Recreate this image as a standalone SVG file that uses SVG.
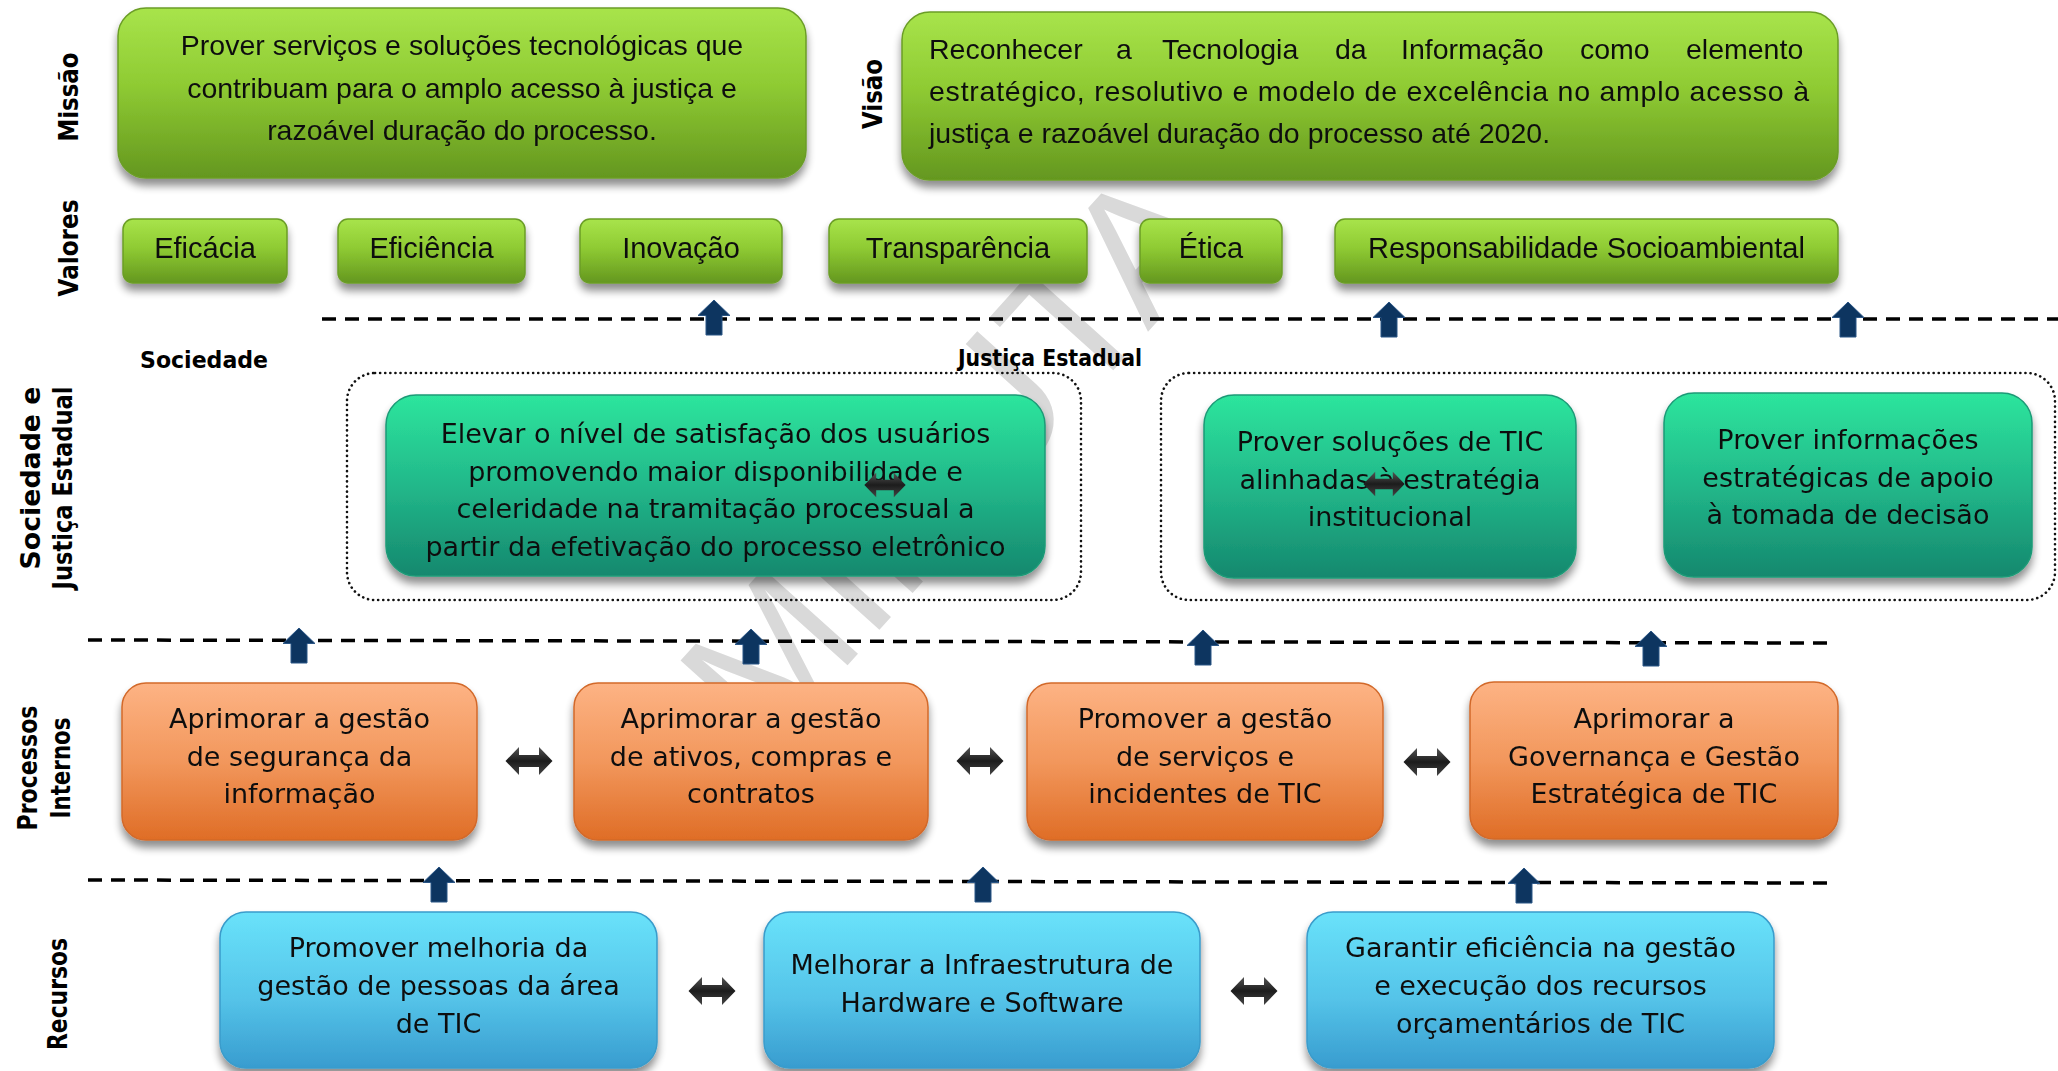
<svg xmlns="http://www.w3.org/2000/svg" width="2058" height="1071" viewBox="0 0 2058 1071">
<defs>
<style>
.t1{font-family:"Liberation Sans",Arial,sans-serif;font-size:28.5px;fill:#111}
.t1m{font-family:"Liberation Sans",Arial,sans-serif;font-size:28.5px;fill:#111;text-anchor:middle}
.tc{font-family:"DejaVu Sans",Verdana,sans-serif;font-size:27px;fill:#111;text-anchor:middle}
.tv{font-family:"Liberation Sans",Arial,sans-serif;font-size:29px;fill:#111;text-anchor:middle}
.lb{font-family:"DejaVu Sans",Verdana,sans-serif;font-weight:bold;font-size:26px;fill:#000;text-anchor:middle}
.hb{font-family:"DejaVu Sans",Verdana,sans-serif;font-weight:bold;font-size:23px;fill:#000}
.dash{stroke:#000;stroke-width:3.5;stroke-dasharray:14 9;fill:none}
.dot{fill:none;stroke:#111;stroke-width:2.6;stroke-dasharray:0.1 5;stroke-linecap:round}
.green{fill:url(#gG);stroke:#6b9d26;stroke-width:1.5}
.teal{fill:url(#gT);stroke:#1c9a77;stroke-width:1.5}
.orange{fill:url(#gO);stroke:#d2692a;stroke-width:1.5}
.blue{fill:url(#gB);stroke:#3a9ccb;stroke-width:1.5}
.up{fill:#0d3560;stroke:#2b5686;stroke-width:1}
.dbl{fill:url(#gD)}
</style>
<linearGradient id="gG" x1="0" y1="0" x2="0" y2="1"><stop offset="0" stop-color="#a8e44b"/><stop offset="0.45" stop-color="#8fcb33"/><stop offset="1" stop-color="#64971f"/></linearGradient>
<linearGradient id="gT" x1="0" y1="0" x2="0" y2="1"><stop offset="0" stop-color="#2de59d"/><stop offset="0.5" stop-color="#22b88a"/><stop offset="1" stop-color="#15886e"/></linearGradient>
<linearGradient id="gO" x1="0" y1="0" x2="0" y2="1"><stop offset="0" stop-color="#fdb384"/><stop offset="0.5" stop-color="#f2975c"/><stop offset="1" stop-color="#df6d26"/></linearGradient>
<linearGradient id="gB" x1="0" y1="0" x2="0" y2="1"><stop offset="0" stop-color="#69e2fa"/><stop offset="0.55" stop-color="#55c4e9"/><stop offset="1" stop-color="#389ccf"/></linearGradient>
<linearGradient id="gD" x1="0" y1="0" x2="0" y2="1"><stop offset="0" stop-color="#555"/><stop offset="0.5" stop-color="#1c1c1c"/><stop offset="1" stop-color="#444"/></linearGradient>
<filter id="sh" x="-10%" y="-15%" width="120%" height="145%">
<feGaussianBlur in="SourceAlpha" stdDeviation="4"/>
<feOffset dy="7" result="o"/>
<feComponentTransfer><feFuncA type="linear" slope="0.45"/></feComponentTransfer>
<feMerge><feMergeNode/><feMergeNode in="SourceGraphic"/></feMerge>
</filter>
<path id="uparrow" class="up" d="M0,0 L16,15.5 L8,15.5 L8,35 L-8,35 L-8,15.5 L-16,15.5 Z"/>
<path id="dblarrow" class="dbl" d="M-23.5,0 L-10,-14 L-10,-6 L10,-6 L10,-14 L23.5,0 L10,14 L10,6 L-10,6 L-10,14 Z"/>
</defs>
<rect width="2058" height="1071" fill="#fff"/>

<text transform="translate(765,757) rotate(-48)" font-family="Liberation Sans, Arial, sans-serif" font-size="185" fill="#d9d9d9">MINUTA</text>

<g id="labels">
<text class="lb" transform="translate(78,97) rotate(-90)" textLength="89" lengthAdjust="spacingAndGlyphs">Missão</text>
<text class="lb" transform="translate(78,248) rotate(-90)" textLength="97" lengthAdjust="spacingAndGlyphs">Valores</text>
<text class="lb" transform="translate(882,94) rotate(-90)" textLength="70" lengthAdjust="spacingAndGlyphs">Visão</text>
<text class="lb" transform="translate(40,478) rotate(-90)" textLength="183" lengthAdjust="spacingAndGlyphs">Sociedade e</text>
<text class="lb" transform="translate(72,488) rotate(-90)" textLength="203" lengthAdjust="spacingAndGlyphs">Justiça Estadual</text>
<text class="lb" transform="translate(37,768) rotate(-90)" textLength="125" lengthAdjust="spacingAndGlyphs">Processos</text>
<text class="lb" transform="translate(70,768) rotate(-90)" textLength="101" lengthAdjust="spacingAndGlyphs">Internos</text>
<text class="lb" transform="translate(67,994) rotate(-90)" textLength="112" lengthAdjust="spacingAndGlyphs">Recursos</text>
<text class="hb" x="140" y="368" textLength="128" lengthAdjust="spacingAndGlyphs">Sociedade</text>
<text class="hb" x="958" y="366" textLength="184" lengthAdjust="spacingAndGlyphs">Justiça Estadual</text>
</g>

<g id="containers">
<rect id="grupo-sociedade" class="dot" x="347" y="373" width="734" height="227" rx="28"/>
<rect id="grupo-justica" class="dot" x="1161" y="373" width="894" height="227" rx="28"/>
</g>

<g id="missao" filter="url(#sh)">
<rect class="green" x="118" y="8" width="688" height="170" rx="28"/>
<text class="t1m" x="462" y="55">Prover serviços e soluções tecnológicas que</text>
<text class="t1m" x="462" y="98">contribuam para o amplo acesso à justiça e</text>
<text class="t1m" x="462" y="140">razoável duração do processo.</text>
</g>

<g id="visao" filter="url(#sh)">
<rect class="green" x="902" y="12" width="936" height="168" rx="28"/>
<text class="t1" y="59"><tspan x="929">Reconhecer</tspan><tspan x="1116">a</tspan><tspan x="1162">Tecnologia</tspan><tspan x="1335">da</tspan><tspan x="1401">Informação</tspan><tspan x="1580">como</tspan><tspan x="1686">elemento</tspan></text>
<text class="t1" x="929" y="101" textLength="880" lengthAdjust="spacing">estratégico, resolutivo e modelo de excelência no amplo acesso à</text>
<text class="t1" x="929" y="143">justiça e razoável duração do processo até 2020.</text>
</g>

<g id="valor-eficacia" filter="url(#sh)"><rect class="green" x="123" y="219" width="164" height="64" rx="10"/><text class="tv" x="205" y="258">Eficácia</text></g>
<g id="valor-eficiencia" filter="url(#sh)"><rect class="green" x="338" y="219" width="187" height="64" rx="10"/><text class="tv" x="431.5" y="258">Eficiência</text></g>
<g id="valor-inovacao" filter="url(#sh)"><rect class="green" x="580" y="219" width="202" height="64" rx="10"/><text class="tv" x="681" y="258">Inovação</text></g>
<g id="valor-transparencia" filter="url(#sh)"><rect class="green" x="829" y="219" width="258" height="64" rx="10"/><text class="tv" x="958" y="258">Transparência</text></g>
<g id="valor-etica" filter="url(#sh)"><rect class="green" x="1140" y="219" width="142" height="64" rx="10"/><text class="tv" x="1211" y="258">Ética</text></g>
<g id="valor-responsabilidade" filter="url(#sh)"><rect class="green" x="1335" y="219" width="503" height="64" rx="10"/><text class="tv" x="1586.5" y="258">Responsabilidade Socioambiental</text></g>

<g id="obj-satisfacao" filter="url(#sh)">
<rect class="teal" x="386" y="395" width="659" height="181" rx="30"/>
<text class="tc" x="715.5" y="443">Elevar o nível de satisfação dos usuários</text>
<text class="tc" x="715.5" y="480.5">promovendo maior disponibilidade e</text>
<text class="tc" x="715.5" y="518">celeridade na tramitação processual a</text>
<text class="tc" x="715.5" y="555.5">partir da efetivação do processo eletrônico</text>
</g>
<g id="obj-solucoes" filter="url(#sh)">
<rect class="teal" x="1204" y="395" width="372" height="183" rx="30"/>
<text class="tc" x="1390" y="451">Prover soluções de TIC</text>
<text class="tc" x="1390" y="488.5">alinhadas à estratégia</text>
<text class="tc" x="1390" y="526">institucional</text>
</g>
<g id="obj-informacoes" filter="url(#sh)">
<rect class="teal" x="1664" y="393" width="368" height="184" rx="30"/>
<text class="tc" x="1848" y="449">Prover informações</text>
<text class="tc" x="1848" y="487">estratégicas de apoio</text>
<text class="tc" x="1848" y="524">à tomada de decisão</text>
</g>

<g id="proc-seguranca" filter="url(#sh)">
<rect class="orange" x="122" y="683" width="355" height="157" rx="24"/>
<text class="tc" x="299.5" y="728">Aprimorar a gestão</text>
<text class="tc" x="299.5" y="765.5">de segurança da</text>
<text class="tc" x="299.5" y="803">informação</text>
</g>
<g id="proc-ativos" filter="url(#sh)">
<rect class="orange" x="574" y="683" width="354" height="157" rx="24"/>
<text class="tc" x="751" y="728">Aprimorar a gestão</text>
<text class="tc" x="751" y="765.5">de ativos, compras e</text>
<text class="tc" x="751" y="803">contratos</text>
</g>
<g id="proc-servicos" filter="url(#sh)">
<rect class="orange" x="1027" y="683" width="356" height="157" rx="24"/>
<text class="tc" x="1205" y="728">Promover a gestão</text>
<text class="tc" x="1205" y="765.5">de serviços e</text>
<text class="tc" x="1205" y="803">incidentes de TIC</text>
</g>
<g id="proc-governanca" filter="url(#sh)">
<rect class="orange" x="1470" y="682" width="368" height="157" rx="24"/>
<text class="tc" x="1654" y="728">Aprimorar a</text>
<text class="tc" x="1654" y="765.5">Governança e Gestão</text>
<text class="tc" x="1654" y="803">Estratégica de TIC</text>
</g>

<g id="rec-pessoas" filter="url(#sh)">
<rect class="blue" x="220" y="912" width="437" height="156" rx="26"/>
<text class="tc" x="438.5" y="957">Promover melhoria da</text>
<text class="tc" x="438.5" y="995">gestão de pessoas da área</text>
<text class="tc" x="438.5" y="1033">de TIC</text>
</g>
<g id="rec-infra" filter="url(#sh)">
<rect class="blue" x="764" y="912" width="436" height="156" rx="26"/>
<text class="tc" x="982" y="974">Melhorar a Infraestrutura de</text>
<text class="tc" x="982" y="1012">Hardware e Software</text>
</g>
<g id="rec-orcamento" filter="url(#sh)">
<rect class="blue" x="1307" y="912" width="467" height="156" rx="26"/>
<text class="tc" x="1540.5" y="957">Garantir eficiência na gestão</text>
<text class="tc" x="1540.5" y="995">e execução dos recursos</text>
<text class="tc" x="1540.5" y="1033">orçamentários de TIC</text>
</g>

<g id="connectors">
<line class="dash" x1="322" y1="319" x2="2058" y2="319"/>
<line class="dash" x1="88" y1="640" x2="1830" y2="643"/>
<line class="dash" x1="88" y1="880" x2="1830" y2="883"/>
<use href="#uparrow" x="714" y="300"/>
<use href="#uparrow" x="1389" y="302"/>
<use href="#uparrow" x="1848" y="302"/>
<use href="#uparrow" x="299" y="628"/>
<use href="#uparrow" x="751" y="629"/>
<use href="#uparrow" x="1203" y="630"/>
<use href="#uparrow" x="1651" y="631"/>
<use href="#uparrow" x="439" y="867"/>
<use href="#uparrow" x="983" y="867"/>
<use href="#uparrow" x="1524" y="868"/>
<use href="#dblarrow" x="529" y="761"/>
<use href="#dblarrow" x="980" y="761"/>
<use href="#dblarrow" x="1427" y="762"/>
<use href="#dblarrow" x="712" y="991"/>
<use href="#dblarrow" x="1254" y="991"/>
<use href="#dblarrow" transform="translate(885,485) scale(0.88)"/>
<use href="#dblarrow" transform="translate(1384,484) scale(0.88)"/>
</g>
</svg>
